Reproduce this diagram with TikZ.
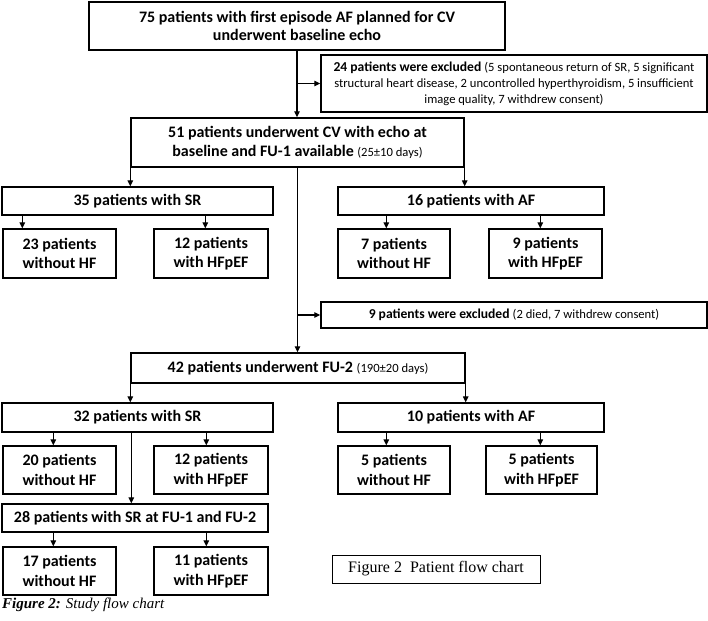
\documentclass[tikz,border=0pt]{standalone}
\usepackage{fontspec}
\setmainfont{Carlito}
\newfontfamily\timesf{Liberation Serif}
\usetikzlibrary{arrows.meta}
\begin{document}
\begin{tikzpicture}[x=1pt,y=-1pt,
  box/.style={draw, line width=1.4pt, inner sep=0pt, align=center,
    font=\fontsize{16}{19.5}\selectfont\bfseries},
  exbox/.style={box, font=\fontsize{13.6}{16}\selectfont\mdseries},
  arr/.style={-{Triangle[length=6pt,width=5.5pt]}, line width=1.2pt}]
\fill[white] (0,0) rectangle (708,620);
\useasboundingbox (0,0) rectangle (708,620);
\newcommand{\smt}[1]{{\fontsize{12.6}{16}\selectfont\mdseries #1}}
% level 1
\node[box, minimum width=416, minimum height=48, font=\fontsize{16}{18.5}\selectfont\bfseries] (b1) at (297,26)
  {75 patients with first episode AF planned for CV\\underwent baseline echo};
\node[exbox, minimum width=386, minimum height=57] (ex1) at (514,83.5)
  {\textbf{24 patients were excluded} \smt{(5 spontaneous return of SR, 5 significant}\\
   \smt{structural heart disease, 2 uncontrolled hyperthyroidism, 5 insufficient}\\
   \smt{image quality, 7 withdrew consent)}};
\node[box, minimum width=333, minimum height=49] (b51) at (297.5,142.5)
  {51 patients underwent CV with echo at\\baseline and FU-1 available \smt{(25\textpm10 days)}};
% FU-1 groups
\node[box, minimum width=271, minimum height=28] (sr1) at (137.5,201) {35 patients with SR};
\node[box, minimum width=266, minimum height=28] (af1) at (471,201) {16 patients with AF};
\node[box, minimum width=113, minimum height=49] (b23) at (59.5,253.5) {23 patients\\without HF};
\node[box, minimum width=114, minimum height=49] (b12) at (211,253.5) {12 patients\\with HFpEF};
\node[box, minimum width=112, minimum height=49] (b7) at (394,253.5) {7 patients\\without HF};
\node[box, minimum width=113, minimum height=49] (b9) at (545.5,253.5) {9 patients\\with HFpEF};
% exclusion 2
\node[exbox, minimum width=386, minimum height=26] (ex2) at (514,315)
  {\textbf{9 patients were excluded} \smt{(2 died, 7 withdrew consent)}};
\node[box, minimum width=334, minimum height=30] (b42) at (298,368)
  {42 patients underwent FU-2 \smt{(190\textpm20 days)}};
% FU-2 groups
\node[box, minimum width=271, minimum height=29] (sr2) at (137.5,417.5) {32 patients with SR};
\node[box, minimum width=266, minimum height=29] (af2) at (471,417.5) {10 patients with AF};
\node[box, minimum width=113, minimum height=48] (b20) at (59.5,470) {20 patients\\without HF};
\node[box, minimum width=114, minimum height=48] (b12b) at (211,470) {12 patients\\with HFpEF};
\node[box, minimum width=112, minimum height=48] (b5a) at (394,470) {5 patients\\without HF};
\node[box, minimum width=111, minimum height=48] (b5b) at (541.5,470) {5 patients\\with HFpEF};
\node[box, minimum width=266, minimum height=28] (b28) at (135,518) {28 patients with SR at FU-1 and FU-2};
\node[box, minimum width=113, minimum height=48] (b17) at (59.5,571) {17 patients\\without HF};
\node[box, minimum width=114, minimum height=48] (b11) at (211,571) {11 patients\\with HFpEF};
% figure label box and caption
\node[box, line width=1pt, minimum width=208, minimum height=28, font=\timesf\fontsize{16}{18}\selectfont] (fig) at (436,569)
  {Figure 2\ \ Patient flow chart};
\node[anchor=base west, inner sep=0pt, font=\timesf\fontsize{15}{16}\selectfont] (cap) at (2,608)
  {\textbf{\textit{Figure 2:}} \textit{Study flow chart}};
% connectors
\draw[arr] (b1.south) -- (b1.south |- b51.north);
\draw[arr] (b1.south |- ex1.west) -- (ex1.west);
\draw[arr] (b51.south west) -- (b51.south west |- sr1.north);
\draw[arr] (b51.south east) -- (b51.south east |- af1.north);
\draw[arr] (b51.south) -- (b51.south |- b42.north);
\draw[arr] (b51.south |- ex2.west) -- (ex2.west);
\coordinate (c1) at ([xshift=21pt]sr1.south west);
\coordinate (c2) at ([xshift=204pt]sr1.south west);
\coordinate (c3) at ([xshift=49pt]af1.south west);
\coordinate (c4) at ([xshift=203pt]af1.south west);
\draw[arr] (c1) -- (c1 |- b23.north);
\draw[arr] (c2) -- (c2 |- b12.north);
\draw[arr] (c3) -- (c3 |- b7.north);
\draw[arr] (c4) -- (c4 |- b9.north);
\draw[arr] (b42.south west) -- (b42.south west |- sr2.north);
\draw[arr] (b42.south east) -- (b42.south east |- af2.north);
\coordinate (d1) at ([xshift=52pt]sr2.south west);
\coordinate (d2) at ([xshift=205pt]sr2.south west);
\coordinate (d3) at ([xshift=130pt]sr2.south west);
\coordinate (d4) at ([xshift=49pt]af2.south west);
\coordinate (d5) at ([xshift=203pt]af2.south west);
\draw[arr] (d1) -- (d1 |- b20.north);
\draw[arr] (d2) -- (d2 |- b12b.north);
\draw[arr] (d3) -- (d3 |- b28.north);
\draw[arr] (d4) -- (d4 |- b5a.north);
\draw[arr] (d5) -- (d5 |- b5b.north);
\coordinate (e1) at ([xshift=52pt]b28.south west);
\coordinate (e2) at ([xshift=205pt]b28.south west);
\draw[arr] (e1) -- (e1 |- b17.north);
\draw[arr] (e2) -- (e2 |- b11.north);
\end{tikzpicture}
\end{document}
